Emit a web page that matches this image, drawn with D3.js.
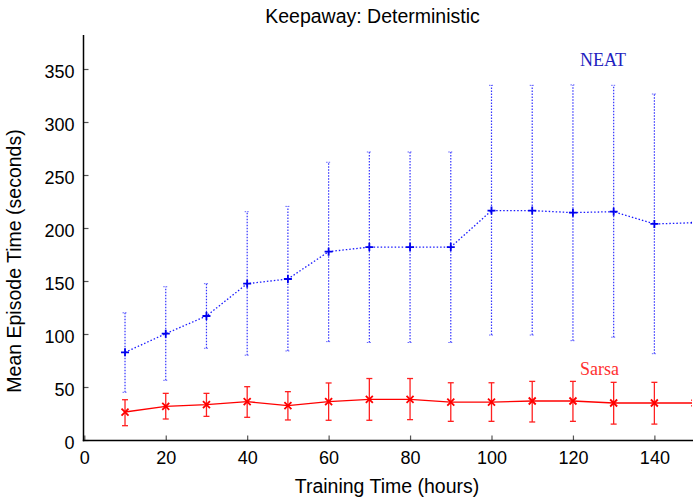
<!DOCTYPE html>
<html>
<head>
<meta charset="utf-8">
<script src="https://cdn.jsdelivr.net/npm/d3@7/dist/d3.min.js"></script>
<style>
  html, body { margin: 0; padding: 0; background: #fff; overflow: hidden; }
  svg { display: block; }
</style>
</head>
<body>
<svg id="chart" width="693" height="500"></svg>
<script>
// ---- data ----
const hours = [10, 20, 30, 40, 50, 60, 70, 80, 90, 100, 110, 120, 130, 140, 150];
const neatMean  = [82.7, 100.3, 117, 147.5, 151.9, 177.7, 182, 182, 182, 216.4, 216.4, 214.5, 215.4, 203.8, 205];
const neatUpper = [120, 144.6, 147.5, 215.4, 220.4, 262, 271.7, 271.7, 271.7, 334.6, 334.6, 335, 334.6, 326.4, 330];
const neatLower = [45, 56.3, 86.5, 80, 84, 92.8, 92, 92, 92, 99, 99, 93.7, 97, 81.4, 85];
const sarsaMean  = [26.4, 31.8, 33.3, 36.2, 32.4, 36.2, 38.4, 38.4, 35.8, 35.8, 36.8, 36.8, 34.9, 34.9, 34.9];
const sarsaUpper = [38, 44, 44, 50.3, 45.6, 53.8, 58, 58, 54, 54, 55.3, 55.3, 54.4, 54.4, 54];
const sarsaLower = [13.5, 19.8, 22.3, 21.4, 18.9, 18.6, 18.6, 19.2, 17.6, 17.6, 17, 17.6, 15, 15, 15];
const xTicks = [0, 20, 40, 60, 80, 100, 120, 140];
const yTicks = [0, 50, 100, 150, 200, 250, 300, 350];

const title = "Keepaway: Deterministic";
const xTitle = "Training Time (hours)";
const yTitle = "Mean Episode Time (seconds)";

// ---- layout ----
const svg = d3.select("#chart");
const x = d3.scaleLinear().domain([0, 150]).range([84.3, 695.1]);
const y = d3.scaleLinear().domain([0, 350]).range([440, 69]);
const sans = "'Liberation Sans', Arial, Helvetica, sans-serif";
const serif = "'Liberation Serif', 'Times New Roman', serif";

svg.append("defs").append("clipPath").attr("id", "plot")
  .append("rect").attr("x", 84).attr("y", 30).attr("width", 608).attr("height", 411);

const neat = hours.map((h, i) => ({h, m: neatMean[i], lo: neatLower[i], hi: neatUpper[i]}));
const sarsa = hours.map((h, i) => ({h, m: sarsaMean[i], lo: sarsaLower[i], hi: sarsaUpper[i]}));

// axes
const xAxis = d3.axisBottom(x).tickValues(xTicks).tickSizeInner(-5).tickSizeOuter(0).tickPadding(11);
const yAxis = d3.axisLeft(y).tickValues(yTicks).tickSizeInner(-5).tickSizeOuter(0).tickPadding(9);

const gx = svg.append("g").attr("transform", "translate(0,440.5)").call(xAxis);
const gy = svg.append("g").attr("transform", "translate(83.5,0)").call(yAxis);
[gx, gy].forEach(g => {
  g.select(".domain").remove();
  g.selectAll(".tick line").attr("stroke", "#555").attr("stroke-width", 1.2);
  g.selectAll(".tick text").attr("font-family", sans).attr("font-size", 18).attr("fill", "#000");
});
gy.selectAll(".tick text").attr("dy", "0.48em");

svg.append("line").attr("x1", 83.5).attr("x2", 83.5).attr("y1", 35).attr("y2", 441.2)
  .attr("stroke", "#000").attr("stroke-width", 1.5);
svg.append("line").attr("x1", 82.8).attr("x2", 693).attr("y1", 440.5).attr("y2", 440.5)
  .attr("stroke", "#000").attr("stroke-width", 1.5);

// ---- NEAT ----
const line = d3.line().x(d => x(d.h)).y(d => y(d.m));
const gN = svg.append("g").attr("clip-path", "url(#plot)");
gN.selectAll("line.eb").data(neat).join("line")
  .attr("x1", d => x(d.h)).attr("x2", d => x(d.h))
  .attr("y1", d => y(d.lo)).attr("y2", d => y(d.hi))
  .attr("stroke", "#3333ff").attr("stroke-width", 1.2).attr("stroke-dasharray", "1.5,1.5");
["lo", "hi"].forEach(k => {
  gN.selectAll("line.cap" + k).data(neat).join("line")
    .attr("x1", d => x(d.h) - 2.5).attr("x2", d => x(d.h) + 2.5)
    .attr("y1", d => y(d[k])).attr("y2", d => y(d[k]))
    .attr("stroke", "#6666ff").attr("stroke-width", 1).attr("stroke-dasharray", "1.5,1");
});
gN.append("path").datum(neat).attr("d", line).attr("fill", "none")
  .attr("stroke", "#1a1aff").attr("stroke-width", 1.3).attr("stroke-dasharray", "1.5,2");
gN.selectAll("path.mk").data(neat).join("path")
  .attr("d", d => { const cx = x(d.h), cy = y(d.m); return `M${cx-4},${cy}H${cx+4}M${cx},${cy-4}V${cy+4}`; })
  .attr("stroke", "#0000ee").attr("stroke-width", 1.8).attr("fill", "none");

// ---- Sarsa ----
const gS = svg.append("g").attr("clip-path", "url(#plot)");
gS.selectAll("line.eb").data(sarsa).join("line")
  .attr("x1", d => x(d.h)).attr("x2", d => x(d.h))
  .attr("y1", d => y(d.lo)).attr("y2", d => y(d.hi))
  .attr("stroke", "#ff2020").attr("stroke-width", 1.3);
["lo", "hi"].forEach(k => {
  gS.selectAll("line.cap" + k).data(sarsa).join("line")
    .attr("x1", d => x(d.h) - 3).attr("x2", d => x(d.h) + 3)
    .attr("y1", d => y(d[k])).attr("y2", d => y(d[k]))
    .attr("stroke", "#ff2020").attr("stroke-width", 1.3);
});
gS.append("path").datum(sarsa).attr("d", line).attr("fill", "none")
  .attr("stroke", "#ff0000").attr("stroke-width", 1.3);
gS.selectAll("path.mk").data(sarsa).join("path")
  .attr("d", d => { const cx = x(d.h), cy = y(d.m), r = 3.5; return `M${cx-r},${cy-r}L${cx+r},${cy+r}M${cx-r},${cy+r}L${cx+r},${cy-r}`; })
  .attr("stroke", "#ff0000").attr("stroke-width", 1.8).attr("fill", "none");

// ---- labels ----
svg.append("text").attr("x", 580).attr("y", 66).attr("font-family", serif).attr("font-size", 18)
  .attr("fill", "#1f1fc0").text("NEAT");
svg.append("text").attr("x", 580).attr("y", 375).attr("font-family", serif).attr("font-size", 18)
  .attr("fill", "#ff3030").text("Sarsa");

svg.append("text").attr("x", 372.5).attr("y", 23).attr("text-anchor", "middle")
  .attr("font-family", sans).attr("font-size", 19.5).attr("fill", "#000").text(title);
svg.append("text").attr("x", 387).attr("y", 493).attr("text-anchor", "middle")
  .attr("font-family", sans).attr("font-size", 19.5).attr("fill", "#000").text(xTitle);
svg.append("text").attr("transform", "translate(21,261) rotate(-90)").attr("text-anchor", "middle")
  .attr("font-family", sans).attr("font-size", 19.5).attr("fill", "#000").text(yTitle);
</script>
</body>
</html>
